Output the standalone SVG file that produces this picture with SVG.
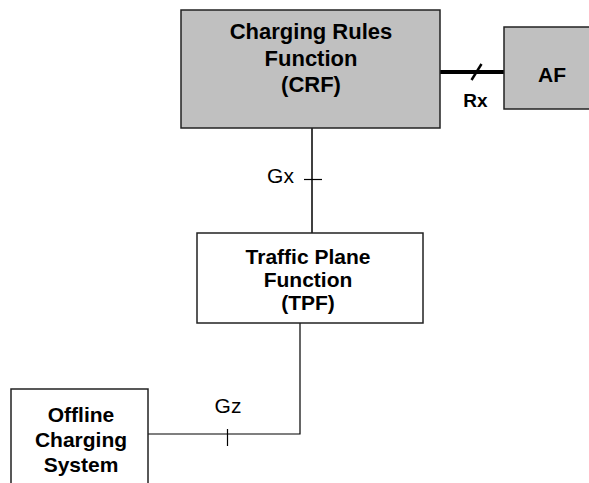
<svg xmlns="http://www.w3.org/2000/svg" width="589" height="483" viewBox="0 0 589 483">
<style>
.box{stroke:#222;stroke-width:1.5}
.grey{fill:#c0c0c0}
.white{fill:#ffffff}
.lbl{font-family:"Liberation Sans",Arial,sans-serif;font-weight:bold;fill:#000;text-anchor:middle}
.if{font-family:"Liberation Sans",Arial,sans-serif;fill:#000;text-anchor:middle}
.ln{stroke:#000;stroke-width:1.2;fill:none}
</style>
<rect width="589" height="483" fill="#ffffff"/>
<g id="connectors">
<line class="ln" x1="440" y1="72" x2="504" y2="72" style="stroke-width:4"/>
<line class="ln" x1="471.5" y1="80" x2="481.5" y2="64" style="stroke-width:2.5"/>
<text class="lbl" x="475.5" y="107" font-size="19">Rx</text>
<line class="ln" x1="312" y1="128" x2="312" y2="233" style="stroke-width:1.5"/>
<line class="ln" x1="304" y1="179.5" x2="322" y2="179.5"/>
<text class="if" x="280.5" y="183" font-size="21">Gx</text>
<polyline class="ln" points="300,323 300,434 148,434"/>
<line class="ln" x1="227.5" y1="429" x2="227.5" y2="446"/>
<text class="if" x="228" y="413" font-size="21">Gz</text>
</g>
<g id="crf">
<rect class="box grey" x="181" y="10" width="259" height="118"/>
<text class="lbl" font-size="22"><tspan x="311" y="39">Charging Rules</tspan><tspan x="311" y="66">Function</tspan><tspan x="311" y="92">(CRF)</tspan></text>
</g>
<g id="af">
<rect class="box grey" x="504" y="27" width="86" height="82"/>
<text class="lbl" x="552" y="82" font-size="21">AF</text>
</g>
<g id="tpf">
<rect class="box white" x="197" y="233" width="226" height="90"/>
<text class="lbl" font-size="21"><tspan x="308" y="264">Traffic Plane</tspan><tspan x="308" y="287">Function</tspan><tspan x="308" y="310">(TPF)</tspan></text>
</g>
<g id="ocs">
<rect class="box white" x="11" y="389" width="137" height="110"/>
<text class="lbl" font-size="21"><tspan x="81" y="422">Offline</tspan><tspan x="81" y="447">Charging</tspan><tspan x="81" y="472">System</tspan></text>
</g>
</svg>
